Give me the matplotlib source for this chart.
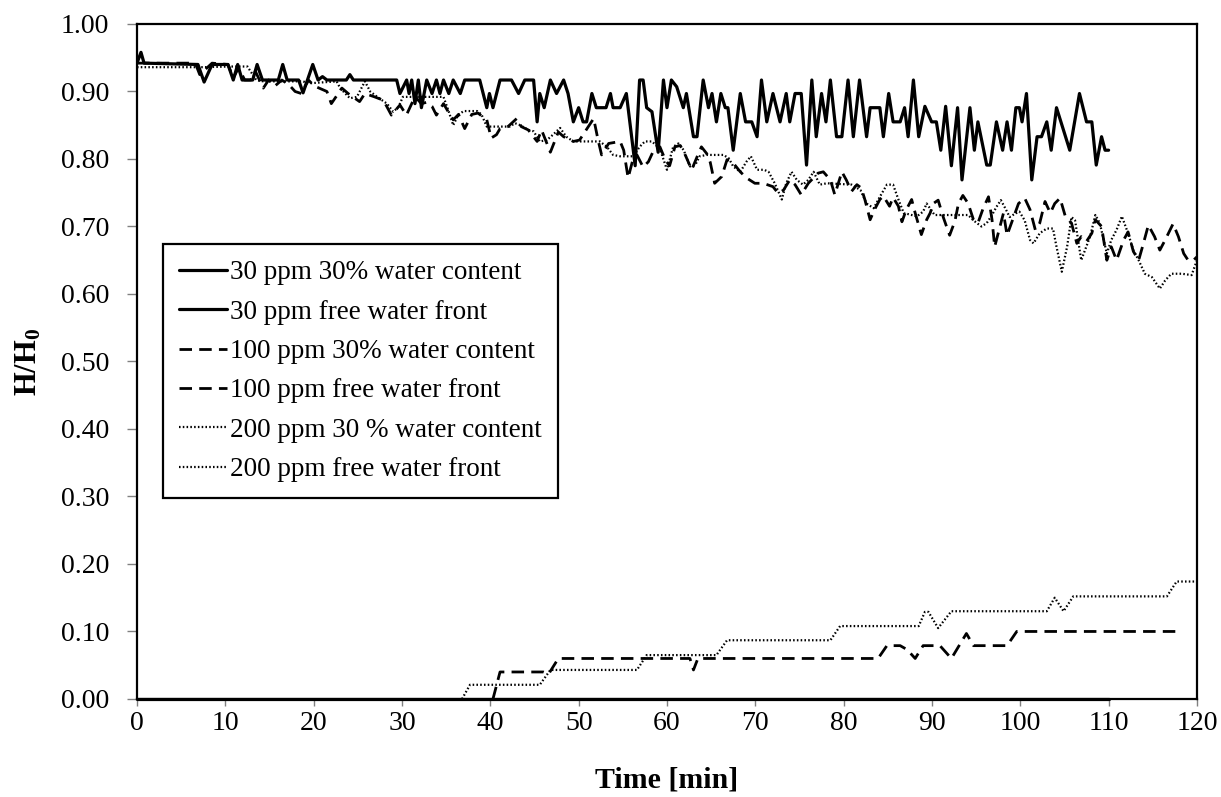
import matplotlib
matplotlib.use("Agg")
from matplotlib import pyplot as plt

plt.rcParams["font.family"] = ["Liberation Serif", "DejaVu Serif"]
plt.rcParams["mathtext.fontset"] = "custom"
plt.rcParams["mathtext.rm"] = "Liberation Serif"
plt.rcParams["mathtext.bf"] = "Liberation Serif:bold"

# 30 ppm, 30 % water content
s30_t = [0.0, 0.45, 0.8, 6.9, 7.6, 8.5, 10.3, 10.9, 11.4, 11.9, 13.1, 13.6, 14.2, 16.0, 16.5,
         17.0, 18.3, 18.8, 19.9, 20.5, 21.0, 21.5, 23.7, 24.1, 24.5, 29.4, 29.77, 30.53, 30.8,
         31.1, 31.47, 31.85, 32.2, 32.8, 33.4, 33.9, 34.3, 34.7, 35.3, 35.8, 36.6, 37.1, 38.8,
         39.6, 39.9, 40.3, 41.1, 42.4, 43.2, 43.9, 44.9, 45.3, 45.6, 46.1, 46.8, 47.5, 48.3,
         48.8, 49.4, 50.0, 50.5, 50.9, 51.5, 52.0, 53.1, 53.6, 53.9, 54.7, 55.4, 56.4, 56.9,
         57.3, 57.7, 58.3, 59.0, 59.6, 60.0, 60.5, 61.1, 61.85, 62.2, 63.0, 63.4, 64.1, 64.7,
         65.1, 65.6, 66.1, 66.6, 66.9, 67.5, 68.3, 68.9, 69.6, 70.2, 70.7, 71.3, 72.0, 72.8,
         73.5, 73.9, 74.5, 75.2, 75.8, 76.4, 76.9, 77.5, 78.0, 78.5, 79.2, 79.8, 80.5, 81.1,
         81.8, 82.6, 83.0, 84.1, 84.5, 85.1, 85.6, 86.4, 86.9, 87.3, 87.9, 88.5, 89.2, 89.96,
         90.5, 91.0, 91.55, 92.2, 92.9, 93.4, 94.3, 94.8, 95.2, 96.2, 96.6, 97.3, 98.0, 98.5,
         99.0, 99.5, 99.9, 100.2, 100.7, 101.3, 101.9, 102.4, 103.0, 103.5, 104.1, 105.6,
         106.7, 107.5, 108.1, 108.6, 109.2, 109.6, 110.0]
s30_v = [0.942, 0.958, 0.942, 0.94, 0.914, 0.94, 0.94, 0.917, 0.94, 0.917, 0.917, 0.94, 0.917,
         0.917, 0.94, 0.917, 0.917, 0.898, 0.94, 0.917, 0.922, 0.917, 0.917, 0.925, 0.917, 0.917,
         0.897, 0.917, 0.897, 0.917, 0.882, 0.917, 0.876, 0.917, 0.897, 0.917, 0.897, 0.917,
         0.897, 0.917, 0.897, 0.917, 0.917, 0.876, 0.897, 0.876, 0.917, 0.917, 0.897, 0.917,
         0.917, 0.855, 0.897, 0.876, 0.917, 0.897, 0.917, 0.897, 0.855, 0.876, 0.855, 0.855,
         0.897, 0.876, 0.876, 0.897, 0.876, 0.876, 0.897, 0.79, 0.917, 0.917, 0.876, 0.87, 0.81,
         0.917, 0.876, 0.917, 0.907, 0.876, 0.897, 0.833, 0.833, 0.917, 0.876, 0.897, 0.855,
         0.897, 0.876, 0.876, 0.813, 0.897, 0.855, 0.855, 0.833, 0.917, 0.855, 0.897, 0.855,
         0.897, 0.855, 0.897, 0.897, 0.791, 0.917, 0.833, 0.897, 0.855, 0.917, 0.833, 0.833,
         0.917, 0.833, 0.917, 0.833, 0.876, 0.876, 0.833, 0.897, 0.855, 0.855, 0.876, 0.833,
         0.917, 0.833, 0.878, 0.855, 0.855, 0.813, 0.878, 0.79, 0.876, 0.769, 0.876, 0.813,
         0.855, 0.791, 0.791, 0.855, 0.813, 0.855, 0.813, 0.876, 0.876, 0.855, 0.897, 0.769,
         0.833, 0.833, 0.855, 0.813, 0.876, 0.813, 0.897, 0.855, 0.855, 0.791, 0.833, 0.813,
         0.813]

# 30 ppm, free water front
f30_t = [0.0, 110.0]
f30_v = [0.0, 0.0]

# 100 ppm, 30 % water content
d100_t = [0.0, 6.6, 7.1, 8.5, 10.3, 10.9, 11.5, 12.2, 12.9, 13.4, 14.3, 14.9, 15.6, 16.4, 17.2,
          17.9, 18.6, 19.4, 20.1, 21.5, 22.0, 23.2, 23.9, 25.2, 25.8, 26.9, 27.9, 28.8, 29.77,
          30.5, 31.1, 31.5, 32.2, 32.8, 33.4, 33.9, 34.7, 35.1, 35.8, 36.4, 37.1, 37.9, 38.6,
          39.6, 40.1, 40.7, 41.1, 42.0, 43.0, 43.5, 44.3, 45.3, 45.8, 46.4, 46.8, 47.1, 47.7,
          48.3, 49.4, 50.1, 51.7, 52.2, 52.6, 53.4, 54.7, 55.1, 55.6, 56.2, 56.6, 57.3, 57.9,
          58.5, 59.2, 59.8, 60.3, 60.9, 61.5, 62.0, 62.8, 63.4, 63.9, 64.5, 64.9, 65.4, 66.2,
          66.8, 67.5, 68.3, 69.0, 69.95, 70.9, 72.0, 72.6, 73.2, 73.9, 74.5, 75.2, 76.0, 77.1,
          77.7, 78.5, 79.0, 79.8, 80.3, 80.9, 81.5, 82.0, 82.4, 83.0, 83.5, 84.1, 84.5, 85.2,
          85.6, 86.2, 86.6, 87.1, 87.7, 88.1, 88.8, 89.4, 89.8, 90.15, 90.7, 91.3, 92.0, 92.6,
          93.0, 93.5, 94.1, 94.7, 95.2, 95.8, 96.4, 96.8, 97.1, 97.5, 98.1, 98.5, 99.0, 99.8,
          100.5, 101.1, 101.7, 102.2, 102.8, 103.4, 103.9, 104.5, 105.1, 105.8, 106.4, 106.9,
          107.5, 108.1, 108.5, 109.2, 109.8, 110.3, 110.9, 111.7, 112.2, 112.8, 113.4, 113.9,
          114.5, 115.2, 115.8, 116.4, 117.3, 117.9, 118.5, 119.0, 119.6, 120.0]
d100_v = [0.942, 0.942, 0.925, 0.942, 0.94, 0.92, 0.935, 0.917, 0.917, 0.93, 0.905, 0.917, 0.908,
          0.917, 0.91, 0.9, 0.897, 0.917, 0.908, 0.9, 0.882, 0.905, 0.897, 0.885, 0.897, 0.892,
          0.887, 0.865, 0.88, 0.865, 0.882, 0.892, 0.882, 0.884, 0.878, 0.865, 0.882, 0.873,
          0.858, 0.866, 0.845, 0.866, 0.868, 0.858, 0.831, 0.836, 0.845, 0.848, 0.86, 0.848,
          0.843, 0.826, 0.843, 0.823, 0.81, 0.82, 0.84, 0.833, 0.826, 0.828, 0.86, 0.828, 0.806,
          0.823, 0.826, 0.813, 0.772, 0.802, 0.806, 0.788, 0.796, 0.813, 0.818, 0.799, 0.79,
          0.818, 0.82, 0.808, 0.784, 0.803, 0.818, 0.808, 0.795, 0.764, 0.774, 0.799, 0.794,
          0.781, 0.772, 0.764, 0.764, 0.759, 0.749, 0.754, 0.769, 0.762, 0.747, 0.764, 0.779,
          0.781, 0.769, 0.747, 0.781, 0.769, 0.752, 0.762, 0.757, 0.74, 0.71, 0.725, 0.74, 0.745,
          0.73, 0.743, 0.73, 0.707, 0.725, 0.74, 0.72, 0.688, 0.71, 0.72, 0.734, 0.739, 0.713,
          0.687, 0.708, 0.734, 0.746, 0.734, 0.71, 0.705, 0.727, 0.744, 0.71, 0.67, 0.69, 0.72,
          0.687, 0.705, 0.734, 0.742, 0.725, 0.695, 0.705, 0.737, 0.72, 0.734, 0.742, 0.715,
          0.705, 0.675, 0.685, 0.678, 0.69, 0.71, 0.7, 0.65, 0.67, 0.65, 0.68, 0.692, 0.663,
          0.65, 0.673, 0.702, 0.685, 0.665, 0.68, 0.704, 0.685, 0.66, 0.65, 0.65, 0.655]

# 100 ppm, free water front
f100_t = [40.3, 41.1, 46.0, 46.6, 47.7, 62.6, 63.0, 63.5, 83.9, 84.9, 86.4, 87.2, 88.1, 89.0,
          90.9, 92.2, 93.9, 94.7, 98.5, 99.6, 118.1]
f100_v = [0.0, 0.04, 0.04, 0.037, 0.06, 0.06, 0.043, 0.06, 0.06, 0.079, 0.079, 0.073, 0.06,
          0.079, 0.079, 0.06, 0.097, 0.079, 0.079, 0.1, 0.1]

# 200 ppm, 30 % water content
p200_t = [0.0, 7.5, 10.5, 12.5, 13.5, 14.3, 18.8, 19.4, 22.6, 23.0, 24.1, 24.9, 25.8, 26.4,
          27.2, 28.3, 29.0, 29.6, 30.1, 31.3, 33.0, 34.7, 35.3, 35.8, 36.4, 37.0, 38.5, 39.0,
          39.6, 40.3, 42.2, 42.8, 43.4, 44.3, 44.9, 45.6, 46.4, 47.1, 47.9, 48.6, 49.4, 52.4,
          53.2, 53.9, 54.7, 56.2, 56.9, 57.5, 58.3, 59.2, 60.0, 60.7, 61.3, 61.9, 62.6, 63.2,
          63.7, 64.5, 66.4, 67.0, 67.5, 68.3, 69.0, 69.5, 70.2, 71.0, 71.5, 72.2, 73.0, 73.5,
          74.1, 74.7, 75.4, 76.0, 76.6, 77.3, 78.1, 80.9, 81.9, 82.6, 83.4, 84.1, 84.9, 85.6,
          86.2, 86.8, 88.3, 89.0, 89.4, 90.3, 91.5, 94.1, 94.7, 95.6, 96.2, 96.8, 97.3, 97.8,
          98.3, 98.8, 99.4, 99.9, 100.5, 101.1, 101.5, 102.2, 103.0, 103.7, 104.1, 104.7, 105.3,
          105.8, 106.2, 106.9, 107.9, 108.5, 109.0, 109.8, 110.3, 110.9, 111.5, 112.2, 112.8,
          113.4, 114.1, 114.9, 115.8, 116.4, 117.1, 118.3, 119.4, 120.0]
p200_v = [0.936, 0.936, 0.937, 0.937, 0.917, 0.915, 0.915, 0.912, 0.915, 0.905, 0.89, 0.892,
          0.915, 0.9, 0.892, 0.882, 0.87, 0.877, 0.892, 0.892, 0.892, 0.892, 0.87, 0.85, 0.866,
          0.871, 0.871, 0.866, 0.848, 0.848, 0.848, 0.853, 0.85, 0.843, 0.841, 0.826, 0.828,
          0.836, 0.846, 0.833, 0.826, 0.826, 0.818, 0.806, 0.804, 0.804, 0.818, 0.826, 0.826,
          0.815, 0.784, 0.818, 0.823, 0.813, 0.789, 0.791, 0.804, 0.806, 0.806, 0.801, 0.789,
          0.781, 0.796, 0.804, 0.784, 0.784, 0.781, 0.764, 0.74, 0.764, 0.781, 0.769, 0.762,
          0.769, 0.781, 0.762, 0.764, 0.762, 0.754, 0.734, 0.727, 0.744, 0.762, 0.762, 0.74,
          0.72, 0.715, 0.722, 0.734, 0.717, 0.717, 0.717, 0.709, 0.7, 0.705, 0.717, 0.729, 0.739,
          0.727, 0.714, 0.719, 0.722, 0.709, 0.68, 0.675, 0.69, 0.697, 0.697, 0.67, 0.633, 0.67,
          0.714, 0.709, 0.65, 0.685, 0.717, 0.705, 0.66, 0.68, 0.695, 0.715, 0.69, 0.665, 0.65,
          0.63, 0.625, 0.608, 0.62, 0.63, 0.63, 0.628, 0.65]

# 200 ppm, free water front
f200_t = [36.8, 37.7, 45.6, 46.8, 56.6, 57.7, 65.6, 66.8, 78.5, 79.6, 88.5, 89.2, 89.6, 90.7,
          92.2, 103.0, 103.9, 104.9, 106.0, 116.6, 117.7, 120.0]
f200_v = [0.0, 0.021, 0.021, 0.043, 0.043, 0.065, 0.065, 0.087, 0.087, 0.108, 0.108, 0.129,
          0.129, 0.105, 0.13, 0.13, 0.15, 0.13, 0.152, 0.152, 0.174, 0.174]

x_ticks = list(range(0, 121, 10))
y_ticks = [i / 10 for i in range(11)]

fig = plt.figure(figsize=(12.21, 7.97), dpi=100)
ax = fig.add_axes([0.1122, 0.123, 0.8681, 0.8469])

solid = dict(color="black", lw=2.3, solid_joinstyle="round", solid_capstyle="round")
dashed = dict(color="black", lw=2.0, dashes=(4.5, 2.6), dash_joinstyle="round")
dotted = dict(color="black", lw=1.6, dashes=(0.7, 1.0))

ax.plot(s30_t, s30_v, label="30 ppm 30% water content", **solid)
ax.plot(f30_t, f30_v, label="30 ppm free water front", clip_on=False, zorder=5, **solid)
ax.plot(d100_t, d100_v, label="100 ppm 30% water content", **dashed)
ax.plot(f100_t, f100_v, label="100 ppm free water front", **dashed)
ax.plot(p200_t, p200_v, label="200 ppm 30 % water content", **dotted)
ax.plot(f200_t, f200_v, label="200 ppm free water front", **dotted)

ax.set_xlim(0, 120)
ax.set_ylim(0, 1)
ax.set_xticks(x_ticks)
ax.set_yticks(y_ticks)
ax.set_yticklabels([f"{v:.2f}" for v in y_ticks])
ax.tick_params(axis="both", labelsize=20, color="#808080", width=1)
ax.tick_params(axis="x", length=5, pad=4)
ax.tick_params(axis="y", length=7, pad=13)
for spine in ax.spines.values():
    spine.set_linewidth(1.6)
    spine.set_color("black")

ax.set_xlabel("Time [min]", fontsize=21.5, fontweight="bold")
ax.set_ylabel(r"$\mathbf{H/H_0}$", fontsize=22)
ax.xaxis.set_label_coords(0.5, -0.1)
ax.yaxis.set_label_coords(-0.088, 0.5)

leg = ax.legend(loc="upper left", bbox_to_anchor=(0.0245, 0.674), borderaxespad=0,
                fontsize=19.5, frameon=True, fancybox=False, framealpha=1,
                handlelength=1.75, handletextpad=0.12, labelspacing=0.53, borderpad=0.6)
leg.get_frame().set_edgecolor("black")
leg.get_frame().set_linewidth(1.6)

fig.savefig("out.png", dpi=100)
